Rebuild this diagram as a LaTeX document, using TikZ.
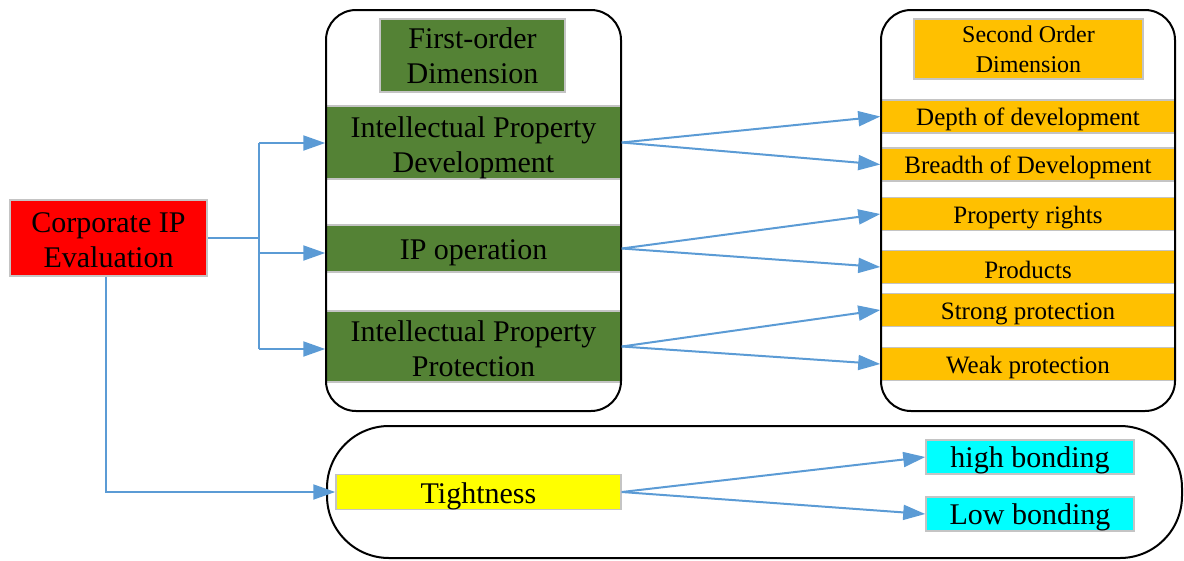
\documentclass[tikz,border=0pt]{standalone}
\usepackage{fontspec}
\setmainfont{Liberation Serif}
\usetikzlibrary{arrows.meta}
\definecolor{flow}{HTML}{5B9BD5}
\definecolor{leaf}{HTML}{548235}
\definecolor{amber}{HTML}{FFC000}
\definecolor{aqua}{HTML}{00FFFF}
\definecolor{lemon}{HTML}{FFFF00}
\definecolor{scarlet}{HTML}{FF0000}
\definecolor{edgegray}{HTML}{C4C4C4}
% invisible strut that adds room above the first text line
\newcommand{\topgap}[1]{\rule{0pt}{\dimexpr0.72em+#1\relax}}
\tikzset{
  box/.style={draw=edgegray, line width=1.5pt, inner sep=0pt, align=center,
              text=black, font=\fontsize{30}{35}\selectfont},
  lowered/.style={execute at begin node={\topgap{#1}}},
  lowered/.default=7pt,
  redbox/.style={box, fill=scarlet},
  greenbox/.style={box, fill=leaf},
  orangebox/.style={box, fill=amber, font=\fontsize{25}{30}\selectfont},
  yellowbox/.style={box, fill=lemon},
  cyanbox/.style={box, fill=aqua},
  frame/.style={draw=black, line width=2pt},
  flowline/.style={draw=flow, line width=2pt},
  flowarrow/.style={flowline, -{Triangle[length=22pt,width=15pt]}}
}
\begin{document}
\begin{tikzpicture}[x=1pt,y=-1pt]
\useasboundingbox (0,0) rectangle (1184,560);

% left root
\node[redbox, minimum width=197, minimum height=76] (root) at (108.5,238) {\topgap{2pt}Corporate IP\\Evaluation};

% first-order column
\node[greenbox, minimum width=185, minimum height=73] (fohead) at (472.5,55.5) {First-order\\Dimension};
\node[greenbox, minimum width=295, minimum height=71] (ipd) at (473.5,142.5) {\topgap{10pt}Intellectual Property\\Development};
\node[greenbox, lowered, minimum width=295, minimum height=47] (ipo) at (473.5,248.5) {IP operation};
\node[greenbox, minimum width=295, minimum height=71] (ipp) at (473.5,346.5) {\topgap{3pt}Intellectual Property\\Protection};

% second-order column
\node[orangebox, minimum width=229, minimum height=60, font=\fontsize{24}{30}\selectfont] (sohead) at (1028.5,49) {Second Order\\Dimension};
\node[orangebox, lowered=6pt, minimum width=294, minimum height=33] (depth) at (1028,116.5) {Depth of development};
\node[orangebox, lowered=6pt, minimum width=294, minimum height=33] (breadth) at (1028,164.5) {Breadth of Development};
\node[orangebox, lowered=6pt, minimum width=294, minimum height=33] (rights) at (1028,214) {Property rights};
\node[orangebox, lowered=6pt, minimum width=294, minimum height=33] (products) at (1028,267) {Products};
\node[orangebox, lowered=6pt, minimum width=294, minimum height=33] (strong) at (1028,310) {Strong protection};
\node[orangebox, lowered=6pt, minimum width=294, minimum height=33] (weak) at (1028,364) {Weak protection};

% tightness row
\node[yellowbox, lowered, minimum width=285, minimum height=34] (tight) at (478.5,492) {Tightness};
\node[cyanbox, lowered=6pt, minimum width=208, minimum height=34] (high) at (1030,457) {high bonding};
\node[cyanbox, lowered=6pt, minimum width=208, minimum height=34] (low) at (1030,514) {Low bonding};

% grouping frames
\draw[frame, rounded corners=30pt] (326,10) rectangle (621,411);
\draw[frame, rounded corners=30pt] (881,10) rectangle (1175,411);
\draw[frame, rounded corners=62pt] (327,426) rectangle (1182,558);

% root to first-order items
\coordinate (split) at (259,238);
\draw[flowline] (root.east |- split) -- (split);
\draw[flowline] (259,143) -- (259,349);
\draw[flowarrow] (259,143) -- (ipd.west |- 0,143);
\draw[flowarrow] (259,253) -- (ipo.west |- 0,253);
\draw[flowarrow] (259,349) -- (ipp.west |- 0,349);

% root to tightness
\coordinate (corner) at (106,492);
\draw[flowarrow] (root.south -| corner) -- (corner) -- (tight.west);

% first-order to second-order
\draw[flowarrow] (ipd.east) -- (depth.west);
\draw[flowarrow] (ipd.east) -- (breadth.west);
\draw[flowarrow] (ipo.east) -- (rights.west);
\draw[flowarrow] (ipo.east) -- (products.west);
\draw[flowarrow] (ipp.east) -- (strong.west);
\draw[flowarrow] (ipp.east) -- (weak.west);

% tightness to bonding
\draw[flowarrow] (tight.east) -- (high.west);
\draw[flowarrow] (tight.east) -- (low.west);
\end{tikzpicture}
\end{document}
